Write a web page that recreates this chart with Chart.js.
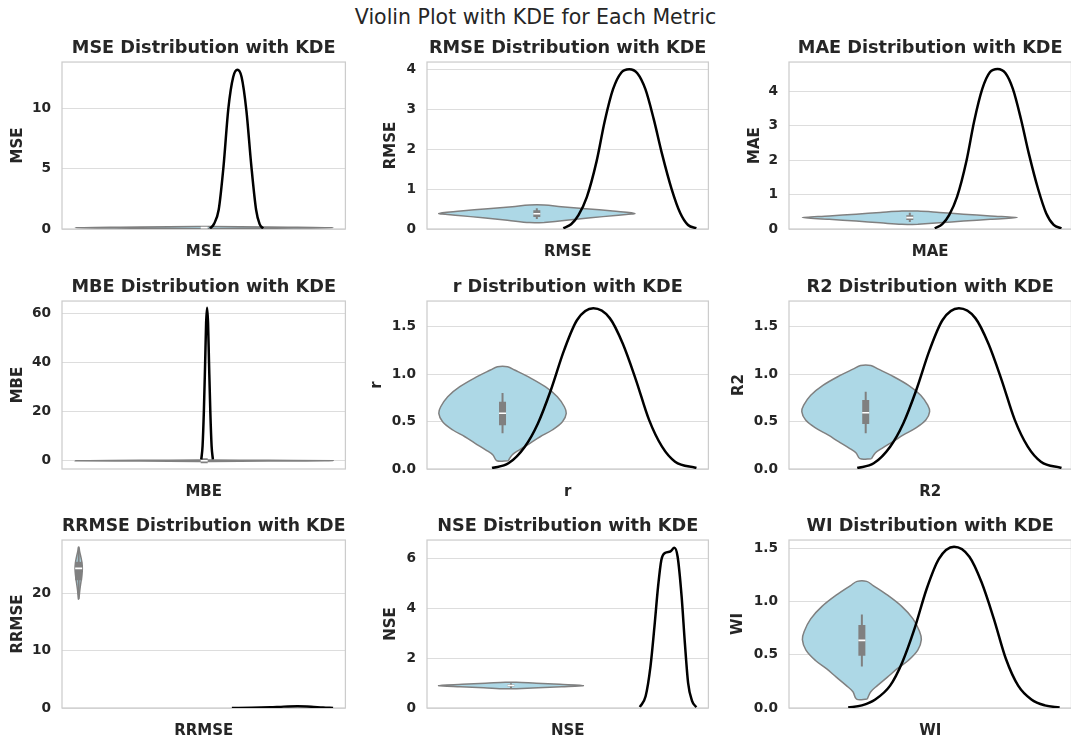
<!DOCTYPE html>
<html>
<head>
<meta charset="utf-8">
<title>Violin Plot with KDE for Each Metric</title>
<script src="https://cdn.jsdelivr.net/npm/chart.js@4.4.1/dist/chart.umd.min.js"></script>
<style>
  html, body { margin: 0; padding: 0; background: #fff; overflow: hidden; }
  #page { position: relative; width: 1071px; height: 742px; overflow: hidden; }
  #suptitle { position: absolute; left: 0; top: 5px; width: 1071px; line-height: 24px; text-align: center;
              font-family: "DejaVu Sans", sans-serif; font-size: 20.5px; color: #262626; }
  .cell { position: absolute; }
  .cell canvas { display: block; }
</style>
</head>
<body>
<div id="page">
  <div id="suptitle">Violin Plot with KDE for Each Metric</div>
</div>
<script>
// metricas, na ordem dos paineis (3 x 3)
var metricNames = ['MSE', 'RMSE', 'MAE', 'MBE', 'r', 'R2', 'RRMSE', 'NSE', 'WI'];

// curvas KDE (x = valor da metrica, y = densidade)
var mseKdeX = [0.018, 0.03, 0.045, 0.06, 0.075, 0.09, 0.103, 0.116, 0.131, 0.146, 0.161, 0.172, 0.183];
var mseKdeY = [0.05, 0.4, 1.6, 5.2, 10.0, 12.6, 13.2, 12.6, 9.8, 5.3, 1.6, 0.4, 0.05];
var rmseKdeX = [0.108, 0.14, 0.17, 0.204, 0.244, 0.277, 0.311, 0.345, 0.377, 0.41, 0.443, 0.477, 0.51, 0.55, 0.585, 0.617, 0.651];
var rmseKdeY = [0.02, 0.12, 0.35, 0.8, 1.7, 2.7, 3.5, 3.92, 4.0, 3.9, 3.5, 2.75, 1.9, 1.0, 0.4, 0.1, 0.02];
var maeKdeX = [0.093, 0.121, 0.147, 0.176, 0.211, 0.24, 0.27, 0.299, 0.327, 0.356, 0.384, 0.414, 0.443, 0.478, 0.508, 0.536, 0.565];
var maeKdeY = [0.02, 0.14, 0.41, 0.93, 1.97, 3.13, 4.06, 4.55, 4.64, 4.52, 4.06, 3.19, 2.2, 1.16, 0.46, 0.12, 0.02];
var mbeKdeX = [-0.009, -0.005, -0.001, 0.003, 0.006, 0.009, 0.012, 0.015, 0.019, 0.023, 0.027];
var mbeKdeY = [0.5, 6, 20, 40, 56, 62.3, 56, 40, 20, 6, 0.5];
var rKdeX = [-0.066, 0.037, 0.14, 0.222, 0.303, 0.386, 0.468, 0.57, 0.673, 0.755, 0.837, 0.919, 1.001, 1.083, 1.217];
var rKdeY = [0.01, 0.06, 0.235, 0.48, 0.83, 1.25, 1.57, 1.693, 1.59, 1.32, 0.94, 0.52, 0.235, 0.077, 0.01];
var r2KdeX = [-0.053, 0.05, 0.153, 0.235, 0.316, 0.399, 0.481, 0.583, 0.686, 0.768, 0.85, 0.932, 1.014, 1.096, 1.225];
var r2KdeY = [0.01, 0.06, 0.235, 0.48, 0.83, 1.25, 1.57, 1.693, 1.59, 1.32, 0.94, 0.52, 0.235, 0.077, 0.01];
var rrmseKdeX = [16.8, 19, 21, 22.5, 24, 25.5, 26.8, 27.9];
var rrmseKdeY = [0.005, 0.03, 0.12, 0.24, 0.3, 0.22, 0.08, 0.01];
var nseKdeX = [0.712, 0.744, 0.771, 0.793, 0.813, 0.831, 0.853, 0.88, 0.903, 0.921, 0.943, 0.961, 0.979, 1.0, 1.024];
var nseKdeY = [0.04, 0.47, 1.67, 3.27, 4.87, 5.93, 6.22, 6.27, 6.42, 6.06, 4.47, 2.6, 1.0, 0.3, 0.03];
var wiKdeX = [-0.092, 0.0, 0.09, 0.19, 0.272, 0.353, 0.436, 0.518, 0.62, 0.723, 0.805, 0.887, 0.969, 1.051, 1.14, 1.23, 1.33];
var wiKdeY = [0.005, 0.025, 0.08, 0.21, 0.43, 0.74, 1.12, 1.4, 1.513, 1.42, 1.18, 0.84, 0.46, 0.21, 0.08, 0.025, 0.005];

// violinos: valores (y) e meia largura (x) em cada nivel
var mseViolinY = [0.02, 0.06, 0.11, 0.16, 0.21];
var mseViolinW = [0.02, 0.2, 0.4, 0.2, 0.02];
var rmseViolinY = [0.16, 0.22, 0.28, 0.34, 0.39, 0.45, 0.51, 0.56, 0.6];
var rmseViolinW = [0.03, 0.12, 0.22, 0.32, 0.4, 0.31, 0.2, 0.1, 0.03];
var maeViolinY = [0.135, 0.18, 0.23, 0.28, 0.33, 0.38, 0.43, 0.48, 0.52];
var maeViolinW = [0.03, 0.11, 0.2, 0.3, 0.4, 0.3, 0.2, 0.11, 0.03];
var mbeViolinY = [-0.3, -0.15, 0, 0.15, 0.3];
var mbeViolinW = [0.02, 0.2, 0.4, 0.2, 0.02];
var rViolinY = [0.087, 0.148, 0.2, 0.271, 0.34, 0.411, 0.498, 0.587, 0.656, 0.762, 0.867, 0.973, 1.043, 1.078];
var rViolinW = [0.036, 0.06, 0.104, 0.172, 0.236, 0.312, 0.376, 0.4, 0.388, 0.344, 0.268, 0.16, 0.076, 0.032];
var r2ViolinY = [0.109, 0.169, 0.221, 0.291, 0.359, 0.43, 0.516, 0.604, 0.672, 0.777, 0.881, 0.986, 1.055, 1.09];
var r2ViolinW = [0.036, 0.06, 0.104, 0.172, 0.236, 0.312, 0.376, 0.4, 0.388, 0.344, 0.268, 0.16, 0.076, 0.032];
var rrmseViolinY = [19.0, 20.5, 22, 23.3, 24.3, 25.3, 26.5, 27.3, 28.05];
var rrmseViolinW = [0.03, 0.12, 0.25, 0.36, 0.4, 0.36, 0.22, 0.1, 0.03];
var nseViolinY = [0.77, 0.81, 0.85, 0.9, 0.95, 0.99, 1.03];
var nseViolinW = [0.03, 0.15, 0.28, 0.4, 0.27, 0.14, 0.03];
var wiViolinY = [0.084, 0.153, 0.21, 0.29, 0.367, 0.446, 0.543, 0.642, 0.719, 0.837, 0.954, 1.072, 1.15, 1.189];
var wiViolinW = [0.036, 0.06, 0.104, 0.172, 0.236, 0.312, 0.376, 0.4, 0.388, 0.344, 0.268, 0.16, 0.076, 0.032];

// box interno: [bigode inf, q1, mediana, q3, bigode sup]
var mseBox = [0.05, 0.09, 0.11, 0.13, 0.18];
var rmseBox = [0.25, 0.3, 0.38, 0.47, 0.52];
var maeBox = [0.2, 0.26, 0.33, 0.4, 0.47];
var mbeBox = [-0.5, -1, 0, 1, 0.5];
var rBox = [0.376, 0.46, 0.587, 0.71, 0.8];
var r2Box = [0.376, 0.474, 0.593, 0.727, 0.815];
var rrmseBox = [19.8, 22.3, 24.35, 25.5, 27.4];
var nseBox = [0.8, 0.86, 0.9, 0.94, 0.99];
var wiBox = [0.39, 0.49, 0.635, 0.78, 0.877];

// ticks do eixo y
var mseYTicks = [0, 5, 10];
var rmseYTicks = [0, 1, 2, 3, 4];
var maeYTicks = [0, 1, 2, 3, 4];
var mbeYTicks = [0, 20, 40, 60];
var rYTicks = [0, 0.5, 1.0, 1.5];
var r2YTicks = [0, 0.5, 1.0, 1.5];
var rrmseYTicks = [0, 10, 20];
var nseYTicks = [0, 2, 4, 6];
var wiYTicks = [0, 0.5, 1.0, 1.5];

// limites dos eixos [min, max]
var xLimits = [[-0.441, 0.438], [-0.448, 0.7], [-0.45, 0.602],
               [-0.441, 0.438], [-0.474, 1.292], [-0.48, 1.287],
               [-1.83, 29.25], [-0.464, 1.091], [-0.49, 1.409]];
var yLimits = [[0, 13.84], [0, 4.18], [0, 4.84],
               [-3.38, 65.0], [0, 1.77], [0, 1.77],
               [0, 29.3], [0, 6.73], [0, 1.577]];

var kdeXs = [mseKdeX, rmseKdeX, maeKdeX, mbeKdeX, rKdeX, r2KdeX, rrmseKdeX, nseKdeX, wiKdeX];
var kdeYs = [mseKdeY, rmseKdeY, maeKdeY, mbeKdeY, rKdeY, r2KdeY, rrmseKdeY, nseKdeY, wiKdeY];
var violinYs = [mseViolinY, rmseViolinY, maeViolinY, mbeViolinY, rViolinY, r2ViolinY, rrmseViolinY, nseViolinY, wiViolinY];
var violinWs = [mseViolinW, rmseViolinW, maeViolinW, mbeViolinW, rViolinW, r2ViolinW, rrmseViolinW, nseViolinW, wiViolinW];
var boxes = [mseBox, rmseBox, maeBox, mbeBox, rBox, r2Box, rrmseBox, nseBox, wiBox];
var yTicks = [mseYTicks, rmseYTicks, maeYTicks, mbeYTicks, rYTicks, r2YTicks, rrmseYTicks, nseYTicks, wiYTicks];

// layout (px) - area de plot de cada painel
var colLeft = [62, 427, 789];
var colRight = [351, 714, 1077];
var rowTop = [62, 301, 540];
var rowBottom = [229, 469, 708];
var labelGap = [44, 36, 34, 44, 50, 50, 44, 36, 51];
var tickDecimals = [0, 0, 0, 0, 1, 1, 0, 0, 1];
var Y_AXIS_W = 62, TOP_H = 30, X_AXIS_H = 40;

var FONT = '"DejaVu Sans", sans-serif';
var TEXT = '#262626';

// moldura cinza em volta de cada grafico
var framePlugin = {
  id: 'frame',
  beforeDatasetsDraw: function (chart) {
    var a = chart.chartArea, ctx = chart.ctx;
    ctx.save();
    ctx.strokeStyle = '#cccccc';
    ctx.lineWidth = 1.25;
    ctx.strokeRect(a.left, a.top, a.right - a.left, a.bottom - a.top);
    ctx.restore();
  }
};

var page = document.getElementById('page');

metricNames.forEach(function (name, i) {
  var col = i % 3, row = Math.floor(i / 3);
  var w = Y_AXIS_W + colRight[col] - colLeft[col];
  var h = TOP_H + rowBottom[row] - rowTop[row] + X_AXIS_H;

  var wrap = document.createElement('div');
  wrap.className = 'cell';
  wrap.style.left = (colLeft[col] - Y_AXIS_W) + 'px';
  wrap.style.top = (rowTop[row] - TOP_H) + 'px';
  var cv = document.createElement('canvas');
  cv.width = w;
  cv.height = h;
  wrap.appendChild(cv);
  page.appendChild(wrap);

  var kde = kdeXs[i].map(function (x, k) { return { x: x, y: kdeYs[i][k] }; });

  // contorno do violino: lado direito subindo, lado esquerdo descendo
  var vy = violinYs[i], vw = violinWs[i];
  var outline = vy.map(function (y, k) { return { x: vw[k], y: y }; });
  for (var k = vy.length - 1; k >= 0; k--) outline.push({ x: -vw[k], y: vy[k] });
  outline.push(outline[0]);

  var b = boxes[i];
  var dec = tickDecimals[i];
  var ticksList = yTicks[i];

  new Chart(cv, {
    type: 'scatter',
    data: {
      datasets: [
        { data: kde, showLine: true, borderColor: '#000000', borderWidth: 2.5, pointRadius: 0,
          cubicInterpolationMode: 'monotone', fill: false, order: 0 },
        { data: [{ x: 0, y: b[2] }], pointStyle: 'line', pointRadius: 3.5,
          pointBorderColor: '#ffffff', pointBorderWidth: 1.6, showLine: false, order: 1 },
        { data: [{ x: 0, y: b[1] }, { x: 0, y: b[3] }], showLine: true, borderColor: '#808080',
          borderWidth: 7, pointRadius: 0, order: 2 },
        { data: [{ x: 0, y: b[0] }, { x: 0, y: b[4] }], showLine: true, borderColor: '#808080',
          borderWidth: 2, pointRadius: 0, order: 3 },
        { data: outline, showLine: true, fill: 'shape', backgroundColor: '#add8e6',
          borderColor: '#808080', borderWidth: 1.5, tension: 0.35, pointRadius: 0, order: 4 }
      ]
    },
    options: {
      responsive: false,
      animation: false,
      events: [],
      layout: { padding: 0 },
      plugins: {
        legend: { display: false },
        tooltip: { enabled: false },
        title: {
          display: true, text: name + ' Distribution with KDE', fullSize: false, color: TEXT,
          font: { family: FONT, size: 17.7, weight: 'bold' }, padding: { top: 5.6, bottom: 3.2 }
        }
      },
      scales: {
        x: {
          type: 'linear', min: xLimits[i][0], max: xLimits[i][1],
          ticks: { display: false }, grid: { display: false }, border: { display: false },
          title: { display: true, text: name, color: TEXT, font: { family: FONT, size: 15, weight: 'bold' },
                   padding: { top: 0, bottom: 7.5 } },
          afterFit: function (s) { s.height = X_AXIS_H; }
        },
        y: {
          type: 'linear', min: yLimits[i][0], max: yLimits[i][1],
          ticks: { color: TEXT, font: { family: FONT, size: 13.7, weight: 'bold' }, padding: 11,
                   callback: function (v) { return Number(v).toFixed(dec); } },
          grid: { color: '#dddddd', lineWidth: 1, drawTicks: false },
          border: { display: false },
          title: { display: true, text: name, color: TEXT, font: { family: FONT, size: 15, weight: 'bold' },
                   padding: { top: Y_AXIS_W - labelGap[i] - 9, bottom: 0 } },
          afterBuildTicks: function (s) { s.ticks = ticksList.map(function (v) { return { value: v }; }); },
          afterFit: function (s) { s.width = Y_AXIS_W; }
        }
      }
    },
    plugins: [framePlugin]
  });
});
</script>
</body>
</html>
